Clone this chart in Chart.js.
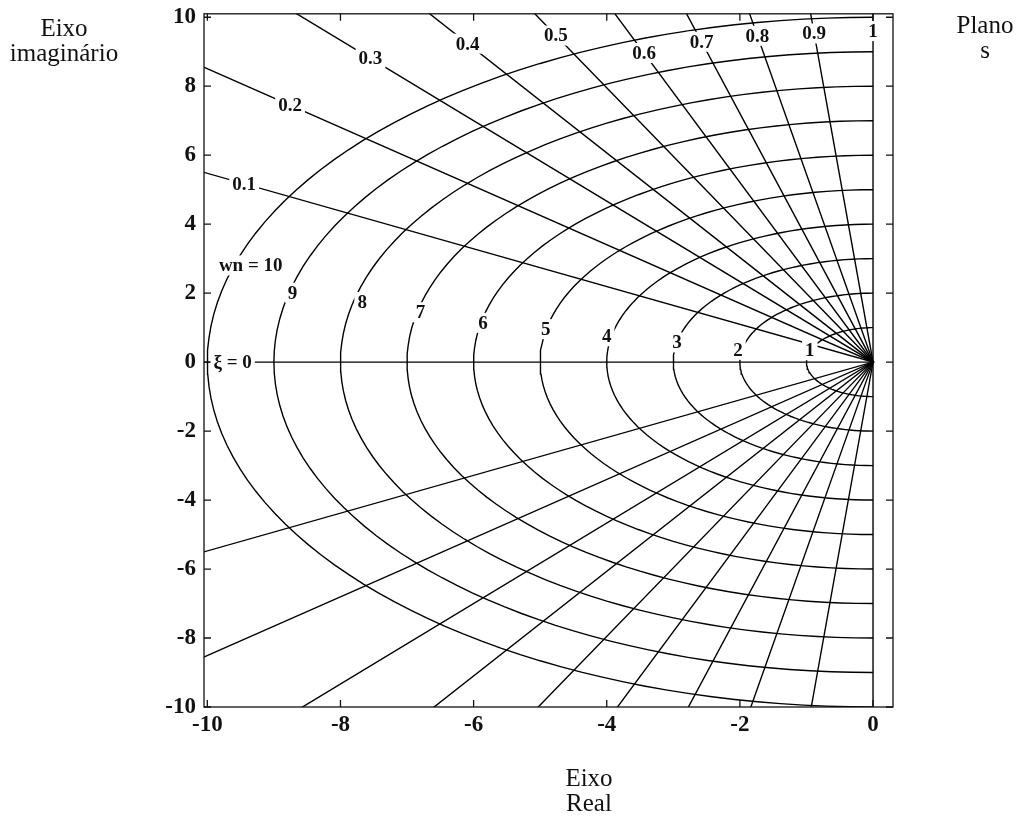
<!DOCTYPE html>
<html>
<head>
<meta charset="utf-8">
<script src="https://cdn.jsdelivr.net/npm/chart.js@4"></script>
<style>
  body { margin: 0; background: #fff; }
  #wrap { position: relative; width: 1021px; height: 827px; }
  canvas { display: block; }
  .t { position: absolute; font-family: "Liberation Serif", "Times New Roman", serif; font-size: 25px;
       color: #111; text-align: center; line-height: 25px; transform: translateX(-50%); white-space: nowrap; }
</style>
</head>
<body>
<div id="wrap">
  <canvas id="chart" width="1021" height="827"></canvas>
  <div class="t" style="left:64px;top:15px">Eixo<br>imaginário</div>
  <div class="t" style="left:985px;top:12px">Plano<br>s</div>
  <div class="t" style="left:589px;top:765px">Eixo<br>Real</div>
</div>
<script>
// eixos
const xTicks = [-10, -8, -6, -4, -2, 0];
const yTicks = [-10, -8, -6, -4, -2, 0, 2, 4, 6, 8, 10];

// frequencias naturais (semicirculos)
const wnValues = [1, 2, 3, 4, 5, 6, 7, 8, 9, 10];
const wnLabels = ['1', '2', '3', '4', '5', '6', '7', '8', '9', 'wn = 10'];

// retas de amortecimento: angulo (graus) medido a partir do eixo real negativo
const zetaLabels = ['ξ = 0', '0.1', '0.2', '0.3', '0.4', '0.5', '0.6', '0.7', '0.8', '0.9', '1'];
const rayAngles  = [0, 28.7, 40.4, 49.4, 56.6, 63.3, 69.0, 74.5, 79.6, 84.7, 90];

// onde ficam os rotulos (so layout)
const wnLabelAngle    = [20, 10, 11, 10.6, 11, 11, 12, 12.8, 13, 16.7];
const wnLabelRadius   = [1.01, 2.06, 3.0, 4.07, 5.01, 5.97, 6.95, 7.87, 8.95, 9.76];
const zetaLabelRadius = [9.62, 10.77, 11.5, 11.6, 11.06, 10.6, 9.6, 9.64, 9.62, 9.57, 9.6];

const rad = d => d * Math.PI / 180;
const SERIF = '"Liberation Serif", "Times New Roman", serif';

function arc(wn){
  const pts = [];
  for (let a = -90; a <= 90; a += 2) pts.push({ x: -wn * Math.cos(rad(a)), y: wn * Math.sin(rad(a)) });
  return pts;
}
function ray(deg){
  const R = 20;
  return [
    { x: -R * Math.cos(rad(deg)), y:  R * Math.sin(rad(deg)) },
    { x: 0, y: 0 },
    { x: -R * Math.cos(rad(deg)), y: -R * Math.sin(rad(deg)) }
  ];
}

const lineStyle = { showLine: true, pointRadius: 0, borderColor: '#000', borderWidth: 1.4, tension: 0, fill: false };
const datasets = [
  ...wnValues.map(wn => ({ label: 'wn ' + wn, data: arc(wn), ...lineStyle })),
  ...rayAngles.map((a, i) => ({ label: zetaLabels[i], data: ray(a), ...lineStyle }))
];

function tag(ctx, text, px, py){
  const w = ctx.measureText(text).width;
  ctx.fillStyle = '#fff';
  ctx.fillRect(px - w / 2 - 3, py - 10, w + 6, 20);
  ctx.fillStyle = '#111';
  ctx.fillText(text, px, py + 1);
}

const decor = {
  id: 'decor',
  afterDatasetsDraw(chart){
    const { ctx, chartArea: a, scales: { x, y } } = chart;
    ctx.save();
    ctx.strokeStyle = '#111';
    ctx.lineWidth = 1.3;
    ctx.strokeRect(a.left, a.top, a.right - a.left, a.bottom - a.top);
    ctx.beginPath();
    xTicks.forEach(v => {
      const px = x.getPixelForValue(v);
      ctx.moveTo(px, a.bottom); ctx.lineTo(px, a.bottom - 7);
      ctx.moveTo(px, a.top);    ctx.lineTo(px, a.top + 7);
    });
    yTicks.forEach(v => {
      const py = y.getPixelForValue(v);
      ctx.moveTo(a.left, py);  ctx.lineTo(a.left + 7, py);
      ctx.moveTo(a.right, py); ctx.lineTo(a.right - 7, py);
    });
    ctx.stroke();

    ctx.font = 'bold 19px ' + SERIF;
    ctx.textAlign = 'center';
    ctx.textBaseline = 'middle';
    wnValues.forEach((wn, i) => {
      const t = rad(wnLabelAngle[i]), r = wnLabelRadius[i];
      tag(ctx, wnLabels[i], x.getPixelForValue(-r * Math.cos(t)), y.getPixelForValue(r * Math.sin(t)));
    });
    rayAngles.forEach((deg, i) => {
      const r = zetaLabelRadius[i];
      tag(ctx, zetaLabels[i], x.getPixelForValue(-r * Math.cos(rad(deg))), y.getPixelForValue(r * Math.sin(rad(deg))));
    });
    ctx.restore();
  }
};

new Chart(document.getElementById('chart'), {
  type: 'scatter',
  data: { datasets },
  plugins: [decor],
  options: {
    responsive: false,
    animation: false,
    devicePixelRatio: 1,
    layout: { padding: { left: 150, top: 3, right: 128, bottom: 80 } },
    plugins: { legend: { display: false }, tooltip: { enabled: false } },
    scales: {
      x: {
        type: 'linear', min: -10.05, max: 0.3,
        afterBuildTicks: s => { s.ticks = xTicks.map(v => ({ value: v })); },
        afterFit: s => { s.height = 40; },
        grid: { display: false }, border: { display: false },
        ticks: { color: '#111', padding: -4, font: { family: SERIF, size: 23, weight: 'bold' }, callback: v => String(v) }
      },
      y: {
        type: 'linear', min: -10, max: 10.1,
        afterBuildTicks: s => { s.ticks = yTicks.map(v => ({ value: v })); },
        afterFit: s => { s.width = 54; },
        grid: { display: false }, border: { display: false },
        ticks: { color: '#111', padding: 0, font: { family: SERIF, size: 23, weight: 'bold' }, callback: v => String(v) }
      }
    }
  }
});
</script>
</body>
</html>
